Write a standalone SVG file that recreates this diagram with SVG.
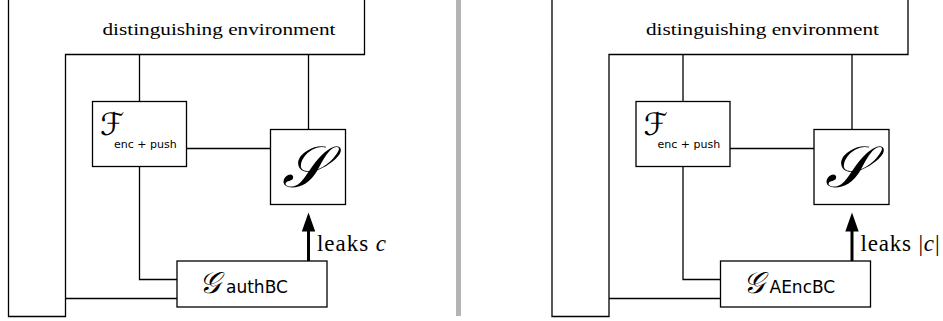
<svg xmlns="http://www.w3.org/2000/svg" width="943" height="321" viewBox="0 0 943 321">
<style>
.ln{fill:none;stroke:#000;stroke-width:1.3}
.bx{fill:#fff;stroke:#000;stroke-width:1.3}
.env{font-family:"Liberation Serif","DejaVu Serif",serif;font-size:17px}
.scr{font-family:"DejaVu Serif","DejaVu Sans",serif;font-style:italic}
.sub{font-family:"DejaVu Sans","Liberation Sans",sans-serif}
.lk{font-family:"Liberation Serif","DejaVu Serif",serif;font-size:23px}
</style>
<rect id="divider" x="456" y="0" width="5" height="316" fill="#b4b4b4"/>
<!-- Left panel -->
<g id="left">
<g id="env-left">
<path class="ln" d="M8.5,0 V316.5 H65.5 V54.5 H364.5 V0"/>
<text class="env" x="219" y="35" text-anchor="middle" textLength="233" lengthAdjust="spacingAndGlyphs">distinguishing environment</text>
</g>
<g id="connectors-left">
<path class="ln" d="M139.5,54.5 V101"/>
<path class="ln" d="M308.5,54.5 V129.5"/>
<path class="ln" d="M186,148.5 H270.5"/>
<path class="ln" d="M139.5,167 V279.5 H177"/>
<path class="ln" d="M65.5,298.5 H177"/>
<path d="M308.5,261 V229" stroke="#000" stroke-width="3"/>
<polygon points="308.5,212.5 301.8,231.5 315.2,231.5" fill="#000"/>
<text class="lk" x="317" y="251" textLength="69" lengthAdjust="spacing">leaks <tspan font-style="italic">c</tspan></text>
</g>
<g id="F-left">
<rect class="bx" x="92.5" y="101.5" width="94" height="65"/>
<text x="100" y="135" class="scr" font-size="31">ℱ</text>
<text x="114" y="148" class="sub" font-size="11">enc + push</text>
</g>
<g id="S-left">
<rect class="bx" x="270.5" y="129.5" width="75" height="75"/>
<text x="304" y="187" class="scr" font-size="58" text-anchor="middle">𝒮</text>
</g>
<g id="G-left">
<rect class="bx" x="177" y="261" width="150" height="46"/>
<text x="199" y="293" class="scr" font-size="30">𝒢</text>
<text x="226" y="293" class="sub" font-size="17">authBC</text>
</g>
</g>
<!-- Right panel -->
<g id="right" transform="translate(543.5,0)">
<g id="env-right">
<path class="ln" d="M8.5,0 V316.5 H65.5 V54.5 H364.5 V0"/>
<text class="env" x="219" y="35" text-anchor="middle" textLength="233" lengthAdjust="spacingAndGlyphs">distinguishing environment</text>
</g>
<g id="connectors-right">
<path class="ln" d="M139.5,54.5 V101"/>
<path class="ln" d="M308.5,54.5 V129.5"/>
<path class="ln" d="M186,148.5 H270.5"/>
<path class="ln" d="M139.5,167 V279.5 H177"/>
<path class="ln" d="M65.5,298.5 H177"/>
<path d="M308.5,261 V229" stroke="#000" stroke-width="3"/>
<polygon points="308.5,212.5 301.8,231.5 315.2,231.5" fill="#000"/>
<text class="lk" x="317" y="251" textLength="79" lengthAdjust="spacing">leaks |<tspan font-style="italic">c</tspan>|</text>
</g>
<g id="F-right">
<rect class="bx" x="92.5" y="101.5" width="94" height="65"/>
<text x="100" y="135" class="scr" font-size="31">ℱ</text>
<text x="114" y="148" class="sub" font-size="11">enc + push</text>
</g>
<g id="S-right">
<rect class="bx" x="270.5" y="129.5" width="75" height="75"/>
<text x="304" y="187" class="scr" font-size="58" text-anchor="middle">𝒮</text>
</g>
<g id="G-right">
<rect class="bx" x="177" y="261" width="150" height="46"/>
<text x="199" y="293" class="scr" font-size="30">𝒢</text>
<text x="226" y="293" class="sub" font-size="17">AEncBC</text>
</g>
</g>
</svg>
